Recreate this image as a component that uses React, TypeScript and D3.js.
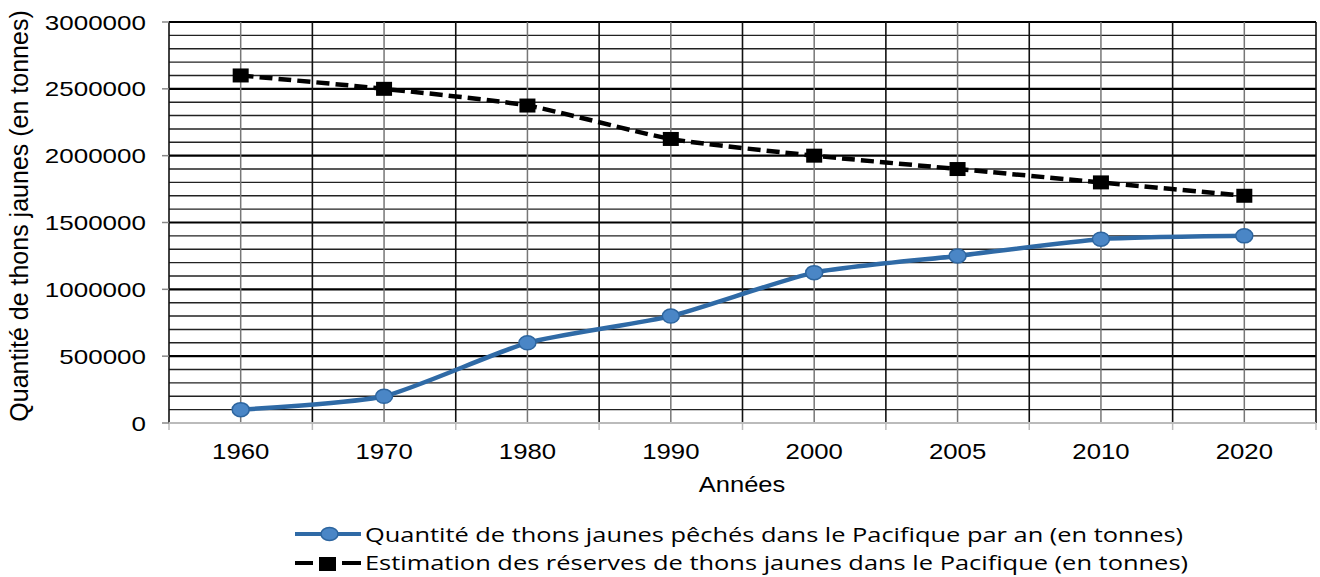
import React from 'react';
import * as d3 from 'd3';

// Years on the x axis
const years = ['1960', '1970', '1980', '1990', '2000', '2005', '2010', '2020'];
// Yellowfin tuna caught per year in the Pacific (tonnes)
const catchValues = [100000, 200000, 600000, 800000, 1125000, 1250000, 1375000, 1400000];
// Estimated reserves in the Pacific (tonnes)
const reserveValues = [2600000, 2500000, 2375000, 2125000, 2000000, 1900000, 1800000, 1700000];
const yTicks = [0, 500000, 1000000, 1500000, 2000000, 2500000, 3000000];
const seriesNames = [
  'Quantité de thons jaunes pêchés dans le Pacifique par an (en tonnes)',
  'Estimation des réserves de thons jaunes dans le Pacifique (en tonnes)',
];

const W = 1320;
const H = 577;
const left = 169;
const right = 1316;
const top = 22;
const bottom = 423;

const font = 'Liberation Sans, Arial, sans-serif';

// text stretched horizontally, like the reference picture
const Stretch = ({ x, y, sx, size, anchor, children }: any) => (
  <text
    transform={`translate(${x},${y}) scale(${sx},1)`}
    textAnchor={anchor}
    fontFamily={font}
    fontSize={size}
    fill="#000"
  >
    {children}
  </text>
);

const App = () => {
  const x = d3.scaleBand().domain(years).range([left, right]);
  const y = d3.scaleLinear().domain([0, 3000000]).range([bottom, top]);
  const cx = (d: string) => (x(d) as number) + x.bandwidth() / 2;

  const minor = d3.range(0, 3000001, 100000);
  const bounds = years.map((d) => x(d) as number).concat([right]);

  const line = d3
    .line<number>()
    .x((_, i) => cx(years[i]))
    .y((d) => y(d))
    .curve(d3.curveCardinal.tension(0.4));

  const blue = '#2f6aa6';

  return (
    <svg width={W} height={H} style={{ position: 'absolute', left: 0, top: 0 }}>
      <rect width={W} height={H} fill="#fff" />
      {/* horizontal gridlines */}
      {minor.map((v) => (
        <line
          key={'h' + v}
          x1={left}
          x2={right}
          y1={y(v)}
          y2={y(v)}
          stroke={v % 500000 === 0 ? '#000' : '#222'}
          strokeWidth={v % 500000 === 0 ? 2.2 : 1.4}
        />
      ))}
      {/* vertical gridlines at category centers */}
      {years.map((d) => (
        <line key={'c' + d} x1={cx(d)} x2={cx(d)} y1={top} y2={bottom} stroke="#777" strokeWidth={1.5} />
      ))}
      {/* vertical gridlines at band boundaries */}
      {bounds.map((b, i) => (
        <line key={'b' + i} x1={b} x2={b} y1={top} y2={bottom} stroke="#111" strokeWidth={1.6} />
      ))}
      {/* x axis */}
      <line x1={left} x2={right} y1={bottom} y2={bottom} stroke="#bbb" strokeWidth={2} />
      {bounds.map((b, i) => (
        <line key={'t' + i} x1={b} x2={b} y1={bottom} y2={bottom + 7} stroke="#bbb" strokeWidth={1.5} />
      ))}
      {/* y axis ticks */}
      {yTicks.map((v) => (
        <g key={'y' + v}>
          <line x1={left - 7} x2={left} y1={y(v)} y2={y(v)} stroke="#888" strokeWidth={1.5} />
          <Stretch x={146} y={y(v) + 7.5} sx={1.3} size={20} anchor="end">
            {v}
          </Stretch>
        </g>
      ))}
      {years.map((d) => (
        <Stretch key={'xl' + d} x={cx(d)} y={459} sx={1.17} size={22} anchor="middle">
          {d}
        </Stretch>
      ))}
      <Stretch x={742} y={492} sx={1.16} size={22} anchor="middle">
        Années
      </Stretch>
      <text
        transform={`translate(28, 216) rotate(-90)`}
        textAnchor="middle"
        fontFamily={font}
        fontSize={25}
        fill="#000"
      >
        Quantité de thons jaunes (en tonnes)
      </text>

      {/* reserves series */}
      <path d={line(reserveValues) || ''} fill="none" stroke="#000" strokeWidth={4.5} strokeDasharray="13 6" />
      {reserveValues.map((v, i) => (
        <rect key={'r' + i} x={cx(years[i]) - 8} y={y(v) - 7} width={16} height={14} fill="#000" />
      ))}
      {/* catch series */}
      <path d={line(catchValues) || ''} fill="none" stroke={blue} strokeWidth={4.5} />
      {catchValues.map((v, i) => (
        <ellipse
          key={'c' + i}
          cx={cx(years[i])}
          cy={y(v)}
          rx={8.5}
          ry={7}
          fill="#4a86c6"
          stroke="#2d659f"
          strokeWidth={1.5}
        />
      ))}

      {/* legend */}
      <line x1={295} x2={361} y1={534} y2={534} stroke={blue} strokeWidth={4} />
      <ellipse cx={329.5} cy={534} rx={8.5} ry={6.5} fill="#4a86c6" stroke="#2d659f" strokeWidth={1.5} />
      <text
        x={365}
        y={542}
        fontFamily="Open Sans, sans-serif"
        fontSize={20}
        fill="#000"
        textLength={818}
        lengthAdjust="spacingAndGlyphs"
      >
        {seriesNames[0]}
      </text>
      <line x1={295} x2={313} y1={563} y2={563} stroke="#000" strokeWidth={4} />
      <line x1={342} x2={361} y1={563} y2={563} stroke="#000" strokeWidth={4} />
      <rect x={319} y={557} width={17} height={14} fill="#000" />
      <text
        x={365}
        y={570}
        fontFamily="Open Sans, sans-serif"
        fontSize={20}
        fill="#000"
        textLength={823}
        lengthAdjust="spacingAndGlyphs"
      >
        {seriesNames[1]}
      </text>
    </svg>
  );
};

export default App;
